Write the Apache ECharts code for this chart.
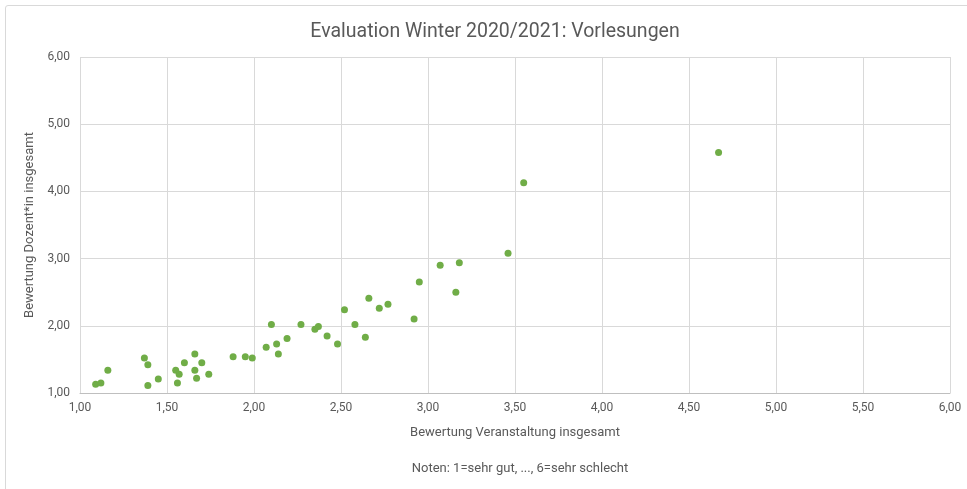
<!DOCTYPE html>
<html>
<head>
<meta charset="utf-8">
<script src="https://cdn.jsdelivr.net/npm/echarts@6/dist/echarts.min.js"></script>
<style>
  html, body { margin: 0; padding: 0; background: #fff; }
  #frame { position: absolute; left: 5px; top: 5px; width: 980px; height: 500px; border: 1px solid #d9d9d9; border-radius: 3px; }
  #chart { position: absolute; left: 0; top: 0; width: 967px; height: 489px; }
</style>
</head>
<body>
<div id="frame"></div>
<div id="chart"></div>
<script>
// Bewertung Veranstaltung insgesamt (x) / Bewertung Dozent*in insgesamt (y)
const veranstaltung = [1.09, 1.12, 1.16, 1.37, 1.39, 1.39, 1.45, 1.56, 1.55, 1.57, 1.60, 1.66, 1.66, 1.67, 1.70, 1.74,
  1.88, 1.95, 1.99, 2.07, 2.10, 2.13, 2.14, 2.19, 2.27, 2.35, 2.37, 2.42, 2.48, 2.52, 2.58, 2.64, 2.66, 2.72, 2.77,
  2.92, 2.95, 3.07, 3.16, 3.18, 3.46, 3.55, 4.67]
const dozent = [1.13, 1.15, 1.34, 1.52, 1.42, 1.11, 1.21, 1.15, 1.34, 1.28, 1.45, 1.58, 1.34, 1.22, 1.45, 1.28,
  1.54, 1.54, 1.52, 1.68, 2.02, 1.73, 1.58, 1.81, 2.02, 1.95, 1.99, 1.85, 1.73, 2.24, 2.02, 1.83, 2.41, 2.26, 2.32,
  2.10, 2.65, 2.90, 2.50, 2.94, 3.08, 4.13, 4.58]

const MyEcharts = echarts.init(document.getElementById('chart'))
const fontFamily = '"Liberation Sans Narrow", "Roboto", sans-serif'
const fmt = v => v.toFixed(2).replace('.', ',')

const option = {
  animation: false,
  textStyle: { fontFamily: fontFamily },
  title: [{
    text: 'Evaluation Winter 2020/2021: Vorlesungen',
    left: 490, top: 17, textAlign: 'center',
    textStyle: { fontSize: 19.5, fontWeight: 'normal', color: '#595959', fontFamily: fontFamily }
  }, {
    text: 'Noten: 1=sehr gut, ..., 6=sehr schlecht',
    left: 515, top: 457, textAlign: 'center',
    textStyle: { fontSize: 13, fontWeight: 'normal', color: '#595959', fontFamily: fontFamily }
  }],
  grid: { left: 80, right: 17, top: 57, bottom: 96 },
  xAxis: {
    type: 'value', min: 1, max: 6, interval: 0.5,
    name: 'Bewertung Veranstaltung insgesamt',
    nameLocation: 'middle', nameGap: 33,
    nameTextStyle: { fontSize: 13, color: '#595959' },
    axisLine: { show: true, lineStyle: { color: '#bfbfbf' } },
    axisTick: { show: false },
    axisLabel: { formatter: fmt, color: '#595959', fontSize: 12, margin: 9 },
    splitLine: { show: true, lineStyle: { color: '#d9d9d9' } }
  },
  yAxis: {
    type: 'value', min: 1, max: 6, interval: 1,
    name: 'Bewertung Dozent*in insgesamt',
    nameLocation: 'middle', nameGap: 41,
    nameTextStyle: { fontSize: 13, color: '#595959' },
    axisLine: { show: false },
    axisTick: { show: false },
    axisLabel: { formatter: fmt, color: '#595959', fontSize: 12, margin: 10 },
    splitLine: { show: true, lineStyle: { color: '#d9d9d9' } }
  },
  series: [{
    type: 'scatter',
    data: veranstaltung.map((x, i) => [x, dozent[i]]),
    symbolSize: 7,
    itemStyle: { color: '#70ad47', opacity: 1 }
  }]
}
MyEcharts.setOption(option)
</script>
</body>
</html>
